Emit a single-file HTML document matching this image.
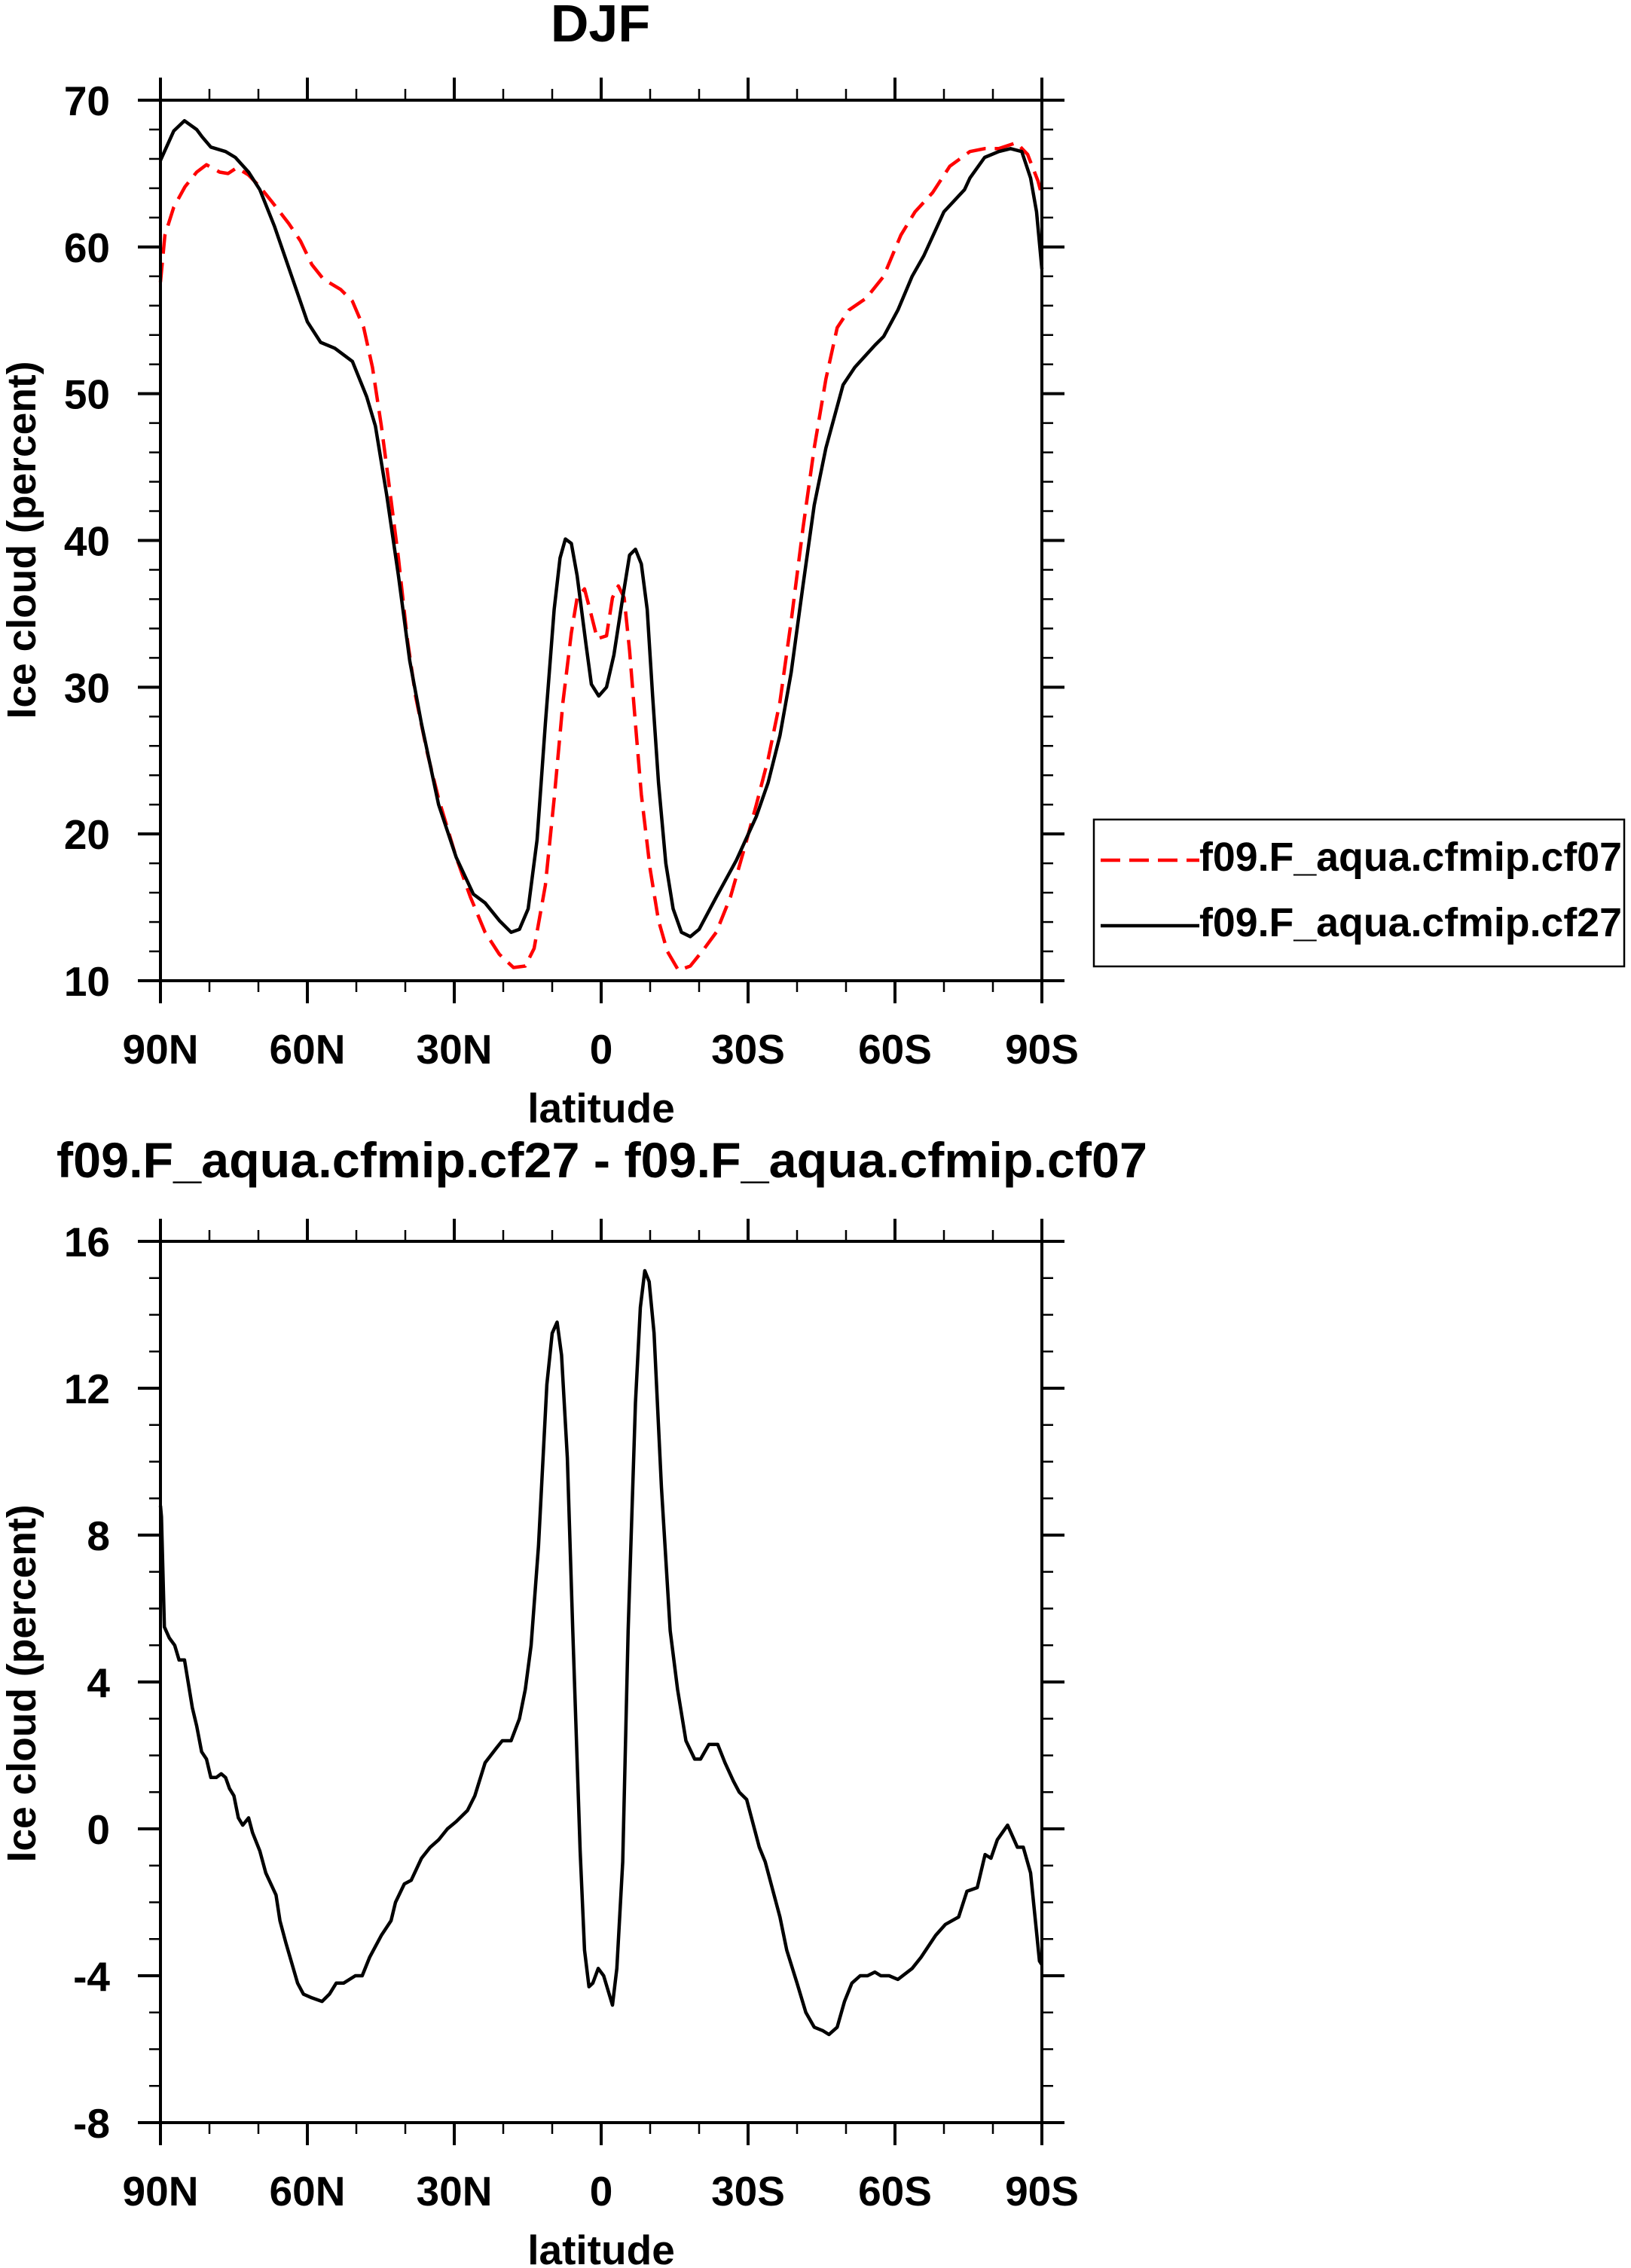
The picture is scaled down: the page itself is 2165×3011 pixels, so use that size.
<!DOCTYPE html>
<html><head><meta charset="utf-8"><style>
html,body{margin:0;padding:0;background:#fff;}
svg{display:block;}
text{font-family:"Liberation Sans",Arial,sans-serif;font-weight:bold;fill:#000;}
</style></head><body>
<svg id="fig" xmlns="http://www.w3.org/2000/svg" width="2165" height="3011" viewBox="0 0 2165 3011">
<text x="797" y="55" font-size="70" text-anchor="middle">DJF</text>
<text x="799" y="1563" font-size="66" text-anchor="middle" textLength="1448" lengthAdjust="spacingAndGlyphs">f09.F_aqua.cfmip.cf27 - f09.F_aqua.cfmip.cf07</text>
<text transform="translate(47,717) rotate(-90)" font-size="54" text-anchor="middle" textLength="475" lengthAdjust="spacingAndGlyphs">Ice cloud (percent)</text>
<text transform="translate(47,2235) rotate(-90)" font-size="54" text-anchor="middle" textLength="475" lengthAdjust="spacingAndGlyphs">Ice cloud (percent)</text>
<text x="798" y="1490" font-size="55" text-anchor="middle">latitude</text>
<text x="798" y="3006" font-size="55" text-anchor="middle">latitude</text>
<g id="top"></g>
<g id="bot"></g>
<g>
<rect x="1452" y="1088" width="704" height="195" fill="none" stroke="#000" stroke-width="2.5"/>
<line x1="1461" y1="1142" x2="1592" y2="1142" stroke="#f00" stroke-width="4.5" stroke-dasharray="26 12"/>
<text x="1592" y="1156" font-size="54" textLength="561" lengthAdjust="spacingAndGlyphs">f09.F_aqua.cfmip.cf07</text>
<line x1="1461" y1="1229" x2="1592" y2="1229" stroke="#000" stroke-width="4.5"/>
<text x="1592" y="1243" font-size="54" textLength="561" lengthAdjust="spacingAndGlyphs">f09.F_aqua.cfmip.cf27</text>
</g>
</svg>
<script>
const xTickLats = [90, 60, 30, 0, -30, -60, -90];
const xTickLabels = ["90N", "60N", "30N", "0", "30S", "60S", "90S"];
const topYTicks = [10, 20, 30, 40, 50, 60, 70];
const botYTicks = [-8, -4, 0, 4, 8, 12, 16];

const latCf27 = [90,87.3,85.1,82.6,81.5,79.7,76.7,74.7,72.0,69.7,66.7,63.2,60.0,57.3,54.4,50.8,47.9,46.1,43.8,41.4,39.1,36.7,33.2,29.6,26.1,23.7,20.8,18.4,16.7,14.9,13.1,11.4,9.6,8.4,7.3,6.1,4.9,3.1,2.0,0.5,-1.1,-2.6,-4.4,-5.8,-7.0,-8.2,-9.4,-10.5,-11.7,-13.2,-14.7,-16.4,-18.2,-20.0,-23.5,-27.6,-31.7,-34.1,-36.5,-38.8,-41.2,-43.5,-45.9,-49.4,-51.8,-55.9,-57.7,-60.6,-63.5,-65.9,-70.0,-74.2,-75.3,-78.3,-81.2,-83.6,-85.9,-87.7,-88.9,-90];
const valCf27 = [65.9,67.9,68.6,68.0,67.5,66.8,66.5,66.1,65.1,63.9,61.4,58.0,54.9,53.5,53.1,52.2,49.8,47.8,43.1,37.6,31.8,27.5,22.0,18.4,15.9,15.3,14.1,13.3,13.5,14.9,19.6,27.5,35.3,38.8,40.1,39.8,37.6,32.9,30.2,29.4,30.0,32.2,36.1,39.0,39.4,38.4,35.3,29.4,23.5,18.0,14.9,13.3,13.0,13.5,15.7,18.2,21.2,23.5,26.7,31.0,36.9,42.4,46.3,50.6,51.8,53.3,53.9,55.7,58.0,59.4,62.4,63.9,64.7,66.1,66.5,66.7,66.5,64.7,62.4,58.5];

const latCf07 = [90,89.1,87.3,85.0,82.6,80.6,77.9,76.2,74.4,72.0,69.7,67.3,63.8,61.4,59.1,56.7,53.2,50.8,48.5,46.7,44.9,43.2,41.4,39.6,37.9,35.5,33.2,29.6,26.7,23.7,20.8,17.9,15.5,13.7,11.4,9.6,7.8,6.1,4.9,3.4,2.0,0.8,-1.1,-2.3,-3.5,-4.7,-5.8,-7.0,-8.2,-10.0,-11.7,-13.5,-15.8,-18.2,-21.1,-23.5,-26.4,-29.4,-31.7,-34.1,-36.5,-38.8,-41.2,-43.5,-45.9,-48.2,-50.6,-54.1,-57.7,-61.2,-64.1,-67.7,-71.2,-75.3,-78.3,-81.2,-84.8,-87.1,-89.2,-90];
const valCf07 = [57.6,60.8,62.7,64.1,65.1,65.6,65.1,65.0,65.4,64.9,64.1,63.1,61.6,60.4,58.8,57.8,57.1,56.3,54.5,51.8,47.8,43.5,38.8,33.3,29.4,25.5,22.4,18.4,15.7,13.3,11.8,10.9,11.0,12.2,16.5,22.4,29.0,33.7,36.1,36.7,34.9,33.3,33.5,36.1,36.9,36.1,32.5,27.5,22.7,17.6,14.1,12.0,10.7,11.0,12.2,13.3,15.7,19.2,22.0,25.1,29.0,34.5,40.8,46.3,51.0,54.5,55.7,56.5,58.0,60.8,62.4,63.7,65.5,66.5,66.7,66.7,67.1,66.3,64.5,63.5];

const latDiff = [90,89.8,89.2,88.2,87.1,86.2,85.1,83.5,82.6,81.6,80.6,79.7,78.6,77.6,76.7,75.9,75.0,74.1,73.2,72.0,71.2,69.7,68.5,66.4,65.6,64.4,62.0,60.8,59.1,57.0,55.5,54.1,52.6,51.4,50.2,48.8,47.3,44.9,42.9,42.0,40.2,38.8,36.7,34.9,33.2,31.4,29.6,27.3,25.8,23.7,21.4,20.2,18.4,16.7,15.5,14.3,12.8,11.1,10.0,9.0,8.1,6.9,5.8,4.3,3.4,2.5,1.7,0.6,-0.5,-2.3,-3.2,-4.4,-5.5,-7.0,-8.0,-8.9,-9.8,-10.8,-12.3,-14.1,-15.6,-17.3,-19.1,-20.3,-22.0,-23.8,-25.3,-27.0,-28.2,-29.7,-32.3,-33.5,-35.3,-36.5,-37.9,-40.0,-41.8,-43.5,-45.3,-46.5,-48.2,-49.7,-51.2,-52.9,-54.4,-55.9,-57.1,-58.8,-60.6,-63.5,-65.3,-68.3,-70.3,-73.0,-74.7,-76.8,-78.4,-79.6,-80.9,-83.0,-85.0,-86.2,-87.7,-89.5,-90];
const valDiff = [8.8,8.5,5.5,5.2,5.0,4.6,4.6,3.3,2.8,2.1,1.9,1.4,1.4,1.5,1.4,1.1,0.9,0.3,0.1,0.3,-0.1,-0.6,-1.2,-1.8,-2.5,-3.1,-4.2,-4.5,-4.6,-4.7,-4.5,-4.2,-4.2,-4.1,-4.0,-4.0,-3.5,-2.9,-2.5,-2.0,-1.5,-1.4,-0.8,-0.5,-0.3,0.0,0.2,0.5,0.9,1.8,2.2,2.4,2.4,3.0,3.8,5.0,7.7,12.1,13.5,13.8,12.9,10.1,5.4,-0.6,-3.3,-4.3,-4.2,-3.8,-4.0,-4.8,-3.8,-0.9,5.4,11.6,14.2,15.2,14.9,13.5,9.3,5.4,3.8,2.4,1.9,1.9,2.3,2.3,1.8,1.3,1.0,0.8,-0.5,-0.9,-1.8,-2.4,-3.3,-4.2,-5.0,-5.4,-5.5,-5.6,-5.4,-4.7,-4.2,-4.0,-4.0,-3.9,-4.0,-4.0,-4.1,-3.8,-3.5,-2.9,-2.6,-2.4,-1.7,-1.6,-0.7,-0.8,-0.3,0.1,-0.5,-0.5,-1.2,-3.6,-3.7];

const NS = "http://www.w3.org/2000/svg";
const X0 = 213, X1 = 1383;
function xOf(lat){ return X0 + (90 - lat) / 180 * (X1 - X0); }
function mk(tag, parent, attrs){
  const e = document.createElementNS(NS, tag);
  for (const k in attrs) e.setAttribute(k, attrs[k]);
  parent.appendChild(e);
  return e;
}
function drawPanel(g, yTop, yBot, vMin, vMax, yTicks, minorStep, series){
  const yOf = v => yBot - (v - vMin) / (vMax - vMin) * (yBot - yTop);
  series.forEach(s => {
    const d = s.lats.map((la, i) => (i ? "L" : "M") + xOf(la).toFixed(1) + " " + yOf(s.vals[i]).toFixed(1)).join(" ");
    const p = mk("path", g, {d: d, fill: "none", stroke: s.color, "stroke-width": 4.5, "stroke-linejoin": "round"});
    if (s.dash) p.setAttribute("stroke-dasharray", s.dash);
    
    
  });
  const fr = mk("rect", g, {x: X0, y: yTop, width: X1 - X0, height: yBot - yTop, fill: "none", stroke: "#000", "stroke-width": 4});
  
  
  // x ticks every 10 deg
  for (let la = 90; la >= -90; la -= 10){
    const major = la % 30 === 0;
    const len = major ? 30 : 15;
    const x = xOf(la);
    const t1 = mk("line", g, {x1: x, y1: yTop, x2: x, y2: yTop - len, stroke: "#000", "stroke-width": major ? 4 : 2.5});
    
    
    const t2 = mk("line", g, {x1: x, y1: yBot, x2: x, y2: yBot + len, stroke: "#000", "stroke-width": major ? 4 : 2.5});
    
    
  }
  xTickLats.forEach((la, i) => {
    const t = mk("text", g, {x: xOf(la), y: yBot + 110, "font-size": 55, "text-anchor": "middle"});
    t.textContent = xTickLabels[i];
    
    
  });
  // y ticks
  for (let v = vMin; v <= vMax + 1e-9; v += minorStep){
    const major = yTicks.some(t => Math.abs(t - v) < 1e-9);
    const len = major ? 30 : 15;
    const y = yOf(v);
    const a = mk("line", g, {x1: X0, y1: y, x2: X0 - len, y2: y, stroke: "#000", "stroke-width": major ? 4 : 2.5});
    
    
    const b = mk("line", g, {x1: X1, y1: y, x2: X1 + len, y2: y, stroke: "#000", "stroke-width": major ? 4 : 2.5});
    
    
  }
  yTicks.forEach(v => {
    const t = mk("text", g, {x: 146, y: yOf(v) + 20, "font-size": 55, "text-anchor": "end"});
    t.textContent = String(v);
    
    
  });
}
drawPanel(document.getElementById("top"), 133, 1302, 10, 70, topYTicks, 2, [
  {lats: latCf07, vals: valCf07, color: "#f00", dash: "26 12", name: "line-cf07"},
  {lats: latCf27, vals: valCf27, color: "#000", dash: null, name: "line-cf27"}
]);
drawPanel(document.getElementById("bot"), 1648, 2818, -8, 16, botYTicks, 1, [
  {lats: latDiff, vals: valDiff, color: "#000", dash: null, name: "line-difference"}
]);
</script>
</body></html>
